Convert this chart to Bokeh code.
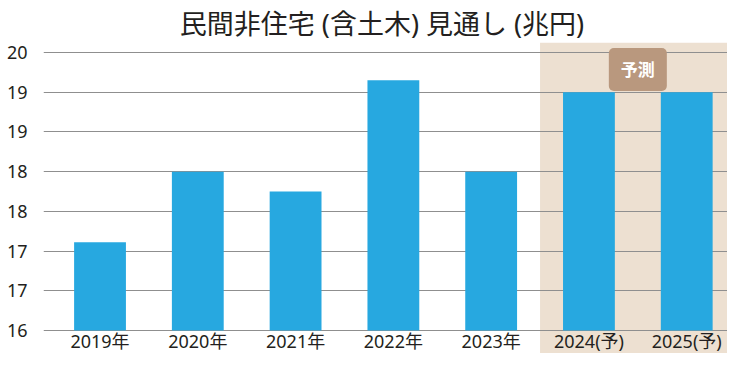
from bokeh.plotting import figure
from bokeh.models import Range1d, FixedTicker, BoxAnnotation, Label, ColumnDataSource
from bokeh.core.properties import value
from bokeh.embed import file_html
from bokeh.resources import INLINE

# ---- data ----
years = ["2019年", "2020年", "2021年", "2022年", "2023年", "2024(予)", "2025(予)"]
values = [17.11, 18.0, 17.75, 19.15, 18.0, 19.0, 19.0]
y_tick_values = [16, 16.5, 17, 17.5, 18, 18.5, 19, 19.5]
y_tick_labels = ["16", "17", "17", "18", "18", "19", "19", "20"]
forecast_start = 5          # index of first forecast year
title_text = "民間非住宅 (含土木)  見通し (兆円)"
badge_text = "予測"

FONT = "'Noto Sans', 'Noto Sans CJK JP'"
TEXT = "#231f20"
BAR = "#27a8e0"
SHADE = "#ede0d1"
BADGE = "#b9987e"
GRID = "#8f8f8f"

xs = list(range(len(years)))
src = ColumnDataSource(dict(x=xs, top=values))
lab_src = ColumnDataSource(dict(x=xs, y=[15.874] * len(xs), text=years))

p = figure(width=727, height=353, output_backend="svg", toolbar_location=None,
           x_range=Range1d(-0.578, 6.417), y_range=Range1d(15.7104, 19.6259),
           min_border_left=43, min_border_right=0, min_border_top=42, min_border_bottom=0)
p.outline_line_color = None
p.background_fill_color = "white"
p.border_fill_color = "white"

# title
p.title.text = title_text
p.title.align = "center"
p.title.offset = -5
p.title.standoff = 2
p.title.text_font = FONT
p.title.text_font_size = "27px"
p.title.text_font_style = "normal"
p.title.text_color = TEXT

# forecast shade
shade = BoxAnnotation(left=forecast_start - 0.5, fill_color=SHADE,
                      fill_alpha=1.0, line_color=None, level="image")
p.add_layout(shade)

p.vbar(x="x", top="top", bottom=16, width=0.53, source=src, color=BAR, line_color=None)

# category labels under the bars
p.text(x="x", y="y", text="text", source=lab_src, text_align="center",
       text_baseline="middle", text_font=value(FONT), text_font_size="18px",
       text_color=TEXT)

# axes
p.xaxis.visible = False
p.yaxis.ticker = FixedTicker(ticks=y_tick_values)
p.yaxis.major_label_overrides = {v: t for v, t in zip(y_tick_values, y_tick_labels)}
p.yaxis.axis_line_color = None
p.yaxis.major_tick_line_color = None
p.yaxis.minor_tick_line_color = None
p.yaxis.major_label_text_font = FONT
p.yaxis.major_label_text_font_size = "18px"
p.yaxis.major_label_text_color = TEXT
p.yaxis.major_label_standoff = 10

p.xgrid.grid_line_color = None
p.ygrid.grid_line_color = GRID
p.ygrid.grid_line_width = 1.2

# badge
badge = Label(x=forecast_start + 0.5, y=19.286, text=badge_text, text_align="center",
              text_baseline="middle", text_color="white", text_font=FONT,
              text_font_size="17px", text_font_style="bold",
              background_fill_color=BADGE, border_radius=5,
              padding=dict(left=12, right=12, top=10, bottom=10))
p.add_layout(badge)

open("out.html", "w").write(file_html(p, INLINE))
